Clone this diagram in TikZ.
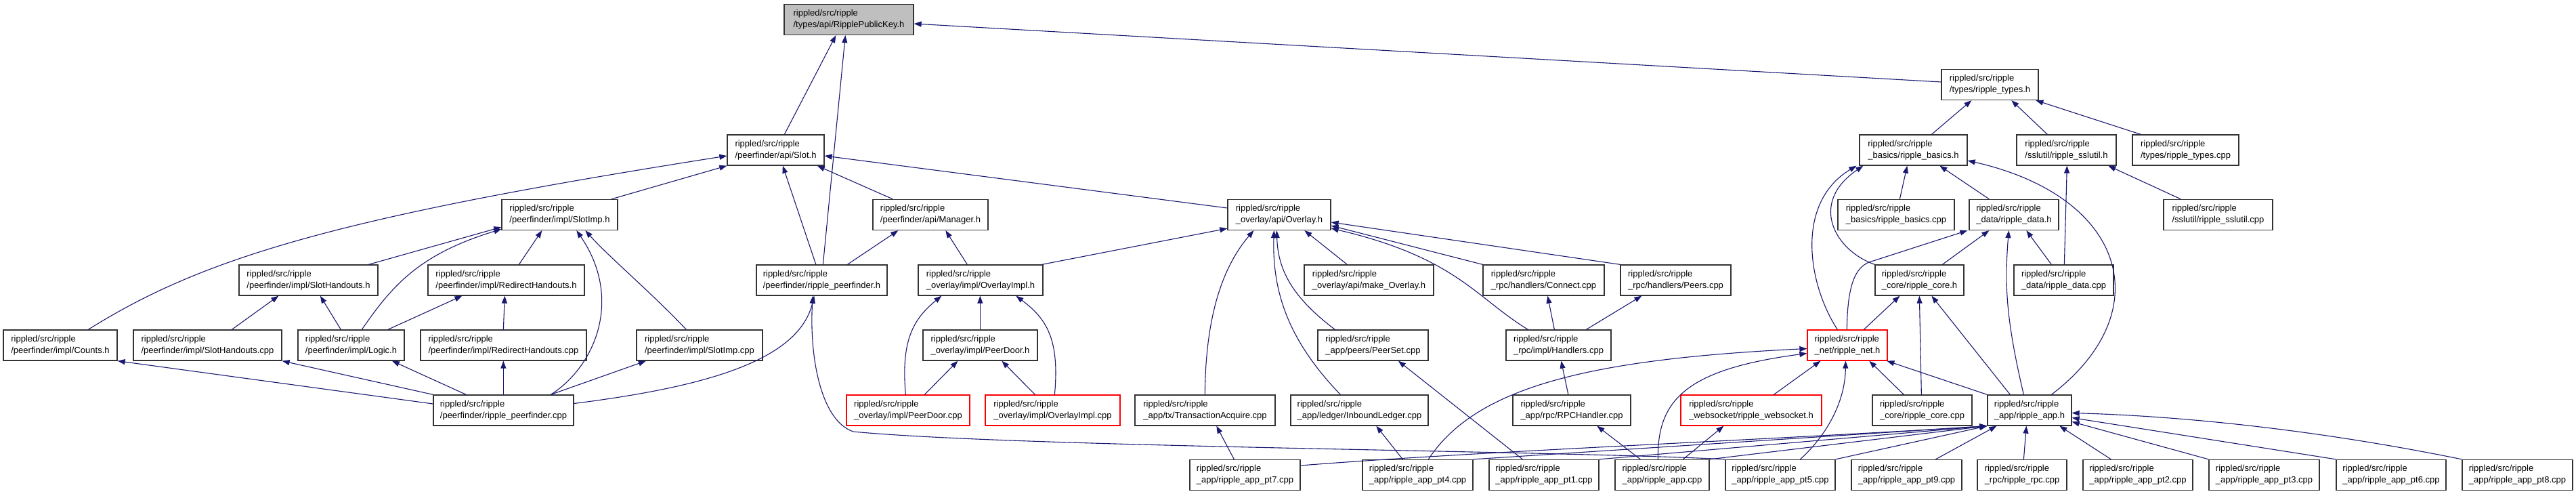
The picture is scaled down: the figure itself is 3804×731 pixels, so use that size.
\documentclass[tikz,border=0pt]{standalone}
\usepackage{fontspec}
\setmainfont{Liberation Sans}
\usetikzlibrary{arrows.meta}
\definecolor{edgecol}{HTML}{191970}
\definecolor{boxcol}{HTML}{333333}
\definecolor{rootfill}{HTML}{BFBFBF}
\definecolor{redcol}{HTML}{FF0000}
\tikzset{
 box/.style={draw=boxcol, line width=1.3pt, fill=white, minimum height=45pt, align=left, inner xsep=0pt, inner ysep=0pt, font=\fontsize{13pt}{17pt}\selectfont},
 rootbox/.style={fill=rootfill},
 redbox/.style={draw=redcol},
 edge/.style={draw=edgecol, line width=1.1pt, -{Triangle[length=11pt,width=8pt]}},
}
\newcommand{\bx}[6][]{%
  \pgfmathsetmacro\bxw{#4-#3}%
  \pgfmathsetmacro\bxc{(#3+#4)/2}%
  \node[box,#1,minimum width=\bxw pt] (#2) at (\bxc,#5) {rippled/src/ripple\\#6};}
\newcommand{\E}[4]{\draw[edge] ([xshift=#2pt]#1.north west) -- ([xshift=#4pt]#3.south west);}
\begin{document}
\begin{tikzpicture}[x=1pt,y=-1pt]
\useasboundingbox (0,0) rectangle (3804,731);
% row 0-2
\bx[rootbox]{rpk}{1158}{1349}{29}{/types/api/RipplePublicKey.h}
\bx{types}{2867}{3010}{125}{/types/ripple\_types.h}
\bx{slot}{1074}{1217}{221.5}{/peerfinder/api/Slot.h}
\bx{basics}{2746}{2905}{221.5}{\_basics/ripple\_basics.h}
\bx{sslh}{2978}{3125}{221.5}{/sslutil/ripple\_sslutil.h}
\bx{typescpp}{3149}{3306}{221.5}{/types/ripple\_types.cpp}
% row 3
\bx{slotimp}{741}{912}{317}{/peerfinder/impl/SlotImp.h}
\bx{manager}{1289}{1459}{317}{/peerfinder/api/Manager.h}
\bx{overlay}{1813}{1965}{317}{\_overlay/api/Overlay.h}
\bx{basicscpp}{2714}{2886}{317}{\_basics/ripple\_basics.cpp}
\bx{datah}{2908}{3040}{317}{\_data/ripple\_data.h}
\bx{sslcpp}{3195}{3356}{317}{/sslutil/ripple\_sslutil.cpp}
% row 4
\bx{sloth}{353}{558}{413.5}{/peerfinder/impl/SlotHandouts.h}
\bx{redirh}{632}{863}{413.5}{/peerfinder/impl/RedirectHandouts.h}
\bx{pfh}{1117}{1310}{413.5}{/peerfinder/ripple\_peerfinder.h}
\bx{ovimplh}{1356}{1540}{413.5}{\_overlay/impl/OverlayImpl.h}
\bx{makeov}{1926}{2117}{413.5}{\_overlay/api/make\_Overlay.h}
\bx{connect}{2190}{2369}{413.5}{\_rpc/handlers/Connect.cpp}
\bx{peers}{2393}{2556}{413.5}{\_rpc/handlers/Peers.cpp}
\bx{coreh}{2769}{2900}{413.5}{\_core/ripple\_core.h}
\bx{datacpp}{2974}{3121}{413.5}{\_data/ripple\_data.cpp}
% row 5
\bx{counts}{5}{173}{509.5}{/peerfinder/impl/Counts.h}
\bx{slothcpp}{197}{416}{509.5}{/peerfinder/impl/SlotHandouts.cpp}
\bx{logic}{440}{597}{509.5}{/peerfinder/impl/Logic.h}
\bx{redircpp}{621}{866}{509.5}{/peerfinder/impl/RedirectHandouts.cpp}
\bx{slotimpcpp}{940}{1126}{509.5}{/peerfinder/impl/SlotImp.cpp}
\bx{peerdoorh}{1363}{1532}{509.5}{\_overlay/impl/PeerDoor.h}
\bx{peerset}{1946}{2109}{509.5}{\_app/peers/PeerSet.cpp}
\bx{handlers}{2224}{2379}{509.5}{\_rpc/impl/Handlers.cpp}
\bx[redbox]{neth}{2669}{2787}{509.5}{\_net/ripple\_net.h}
% row 6
\bx{pfcpp}{640}{847}{605.5}{/peerfinder/ripple\_peerfinder.cpp}
\bx[redbox]{peerdoorcpp}{1250}{1432}{605.5}{\_overlay/impl/PeerDoor.cpp}
\bx[redbox]{ovimplcpp}{1455}{1654}{605.5}{\_overlay/impl/OverlayImpl.cpp}
\bx{txacq}{1676}{1883}{605.5}{\_app/tx/TransactionAcquire.cpp}
\bx{inbound}{1906}{2109}{605.5}{\_app/ledger/InboundLedger.cpp}
\bx{rpchandler}{2234}{2408}{605.5}{\_app/rpc/RPCHandler.cpp}
\bx[redbox]{websock}{2482}{2690}{605.5}{\_websocket/ripple\_websocket.h}
\bx{corecpp}{2765}{2912}{605.5}{\_core/ripple\_core.cpp}
\bx{apph}{2935}{3059}{605.5}{\_app/ripple\_app.h}
% row 7
\bx{pt7}{1757}{1920}{701}{\_app/ripple\_app\_pt7.cpp}
\bx{pt4}{2012}{2175}{701}{\_app/ripple\_app\_pt4.cpp}
\bx{pt1}{2199}{2361}{701}{\_app/ripple\_app\_pt1.cpp}
\bx{appcpp}{2385}{2524}{701}{\_app/ripple\_app.cpp}
\bx{pt5}{2548}{2710}{701}{\_app/ripple\_app\_pt5.cpp}
\bx{pt9}{2734}{2897}{701}{\_app/ripple\_app\_pt9.cpp}
\bx{rpccpp}{2920}{3052}{701}{\_rpc/ripple\_rpc.cpp}
\bx{pt2}{3076}{3238}{701}{\_app/ripple\_app\_pt2.cpp}
\bx{pt3}{3262}{3425}{701}{\_app/ripple\_app\_pt3.cpp}
\bx{pt6}{3450}{3612}{701}{\_app/ripple\_app\_pt6.cpp}
\bx{pt8}{3636}{3799}{701}{\_app/ripple\_app\_pt8.cpp}
% straight edges
\E{slot}{85}{rpk}{77}
\E{pfh}{99}{rpk}{91}
\E{basics}{107}{types}{45}
\E{sslh}{46}{types}{104}
\E{typescpp}{13}{types}{140}
\E{basicscpp}{92}{basics}{71}
\E{datah}{30}{basics}{119}
\E{coreh}{100}{datah}{30}
\E{datacpp}{56}{datah}{85}
\E{datacpp}{75}{sslh}{75}
\E{sslcpp}{26}{sslh}{136}
\E{neth}{84}{coreh}{37}
\E{corecpp}{73}{coreh}{66}
\E{apph}{34}{coreh}{84}
\E{websock}{138}{neth}{20}
\E{corecpp}{47}{neth}{92}
\E{apph}{0}{neth}{118}
\E{appcpp}{101}{websock}{64}
\E{pt9}{125}{apph}{14}
\E{rpccpp}{69}{apph}{58}
\E{pt2}{42}{apph}{107}
\E{makeov}{64}{overlay}{114}
\E{slotimp}{162.5}{slot}{0}
\E{pfh}{88.5}{slot}{82.5}
\E{manager}{30}{slot}{133.5}
\E{redirh}{135}{slotimp}{60}
\E{ovimplh}{73}{manager}{108}
\E{pfh}{135}{manager}{38}
\E{peerdoorh}{85}{ovimplh}{92}
\E{peerdoorcpp}{116}{peerdoorh}{52}
\E{ovimplcpp}{74}{peerdoorh}{117}
\E{slothcpp}{146}{sloth}{59}
\E{logic}{64}{sloth}{120.5}
\E{logic}{133.5}{redirh}{51}
\E{redircpp}{123}{redirh}{114}
\E{pfcpp}{49}{logic}{139.6}
\E{pfcpp}{104}{redircpp}{123}
\E{pfcpp}{174}{slotimpcpp}{14.5}
\E{pt7}{66}{txacq}{121}
\E{pt4}{60}{inbound}{127}
\E{pt1}{50}{peerset}{119.5}
\E{appcpp}{38}{rpchandler}{125}
\E{rpchandler}{82.5}{handlers}{82}
\E{handlers}{72}{connect}{96}
\E{handlers}{119}{peers}{32}
% side edges
\draw[edge] ([yshift=4pt]types.west) -- ([yshift=-6pt]rpk.east);
\draw[edge] ([yshift=10pt]overlay.west) -- ([yshift=-8.5pt]slot.east);
\draw[edge] ([xshift=-2pt]ovimplh.north east) -- ([yshift=3pt]overlay.south west);
\draw[edge] (connect.north west) -- ([yshift=-16pt]overlay.east);
\draw[edge] (peers.north west) -- ([yshift=-11pt]overlay.east);
\draw[edge] ([xshift=192pt]sloth.north west) -- ([yshift=5pt]slotimp.south west);
\draw[edge] (pt3.north west) -- ([yshift=-17pt]apph.east);
\draw[edge] (pt6.north west) -- ([yshift=-11pt]apph.east);
\draw[edge] (pt8.north west) .. controls (3450,640) and (3250,615) .. ([yshift=-4pt]apph.east);
\draw[edge] (pt5.north east) -- (apph.south west);
\draw[edge] (pt4.north east) -- (apph.south west);
\draw[edge] (pt1.north east) -- (apph.south west);
\draw[edge] (appcpp.north east) -- (apph.south west);
\draw[edge] ([yshift=14pt]pt7.east) .. controls (2200,665) and (2600,650) .. (apph.south west);
\draw[edge] ([yshift=9.5pt]pfcpp.west) -- (counts.south east);
\draw[edge] (pfcpp.north west) -- (slothcpp.south east);
% curved edges
\draw[edge] ([xshift=45pt]neth.north west) .. controls (2670,420) and (2650,300) .. ([xshift=-4pt]basics.south west);
\draw[edge] (coreh.north west) .. controls (2710,370) and (2670,300) .. ([xshift=6pt]basics.south west);
\draw[edge] ([xshift=95pt]apph.north west) .. controls (3190,460) and (3140,290) .. ([yshift=-15.5pt]basics.east);
\draw[edge] ([xshift=59pt]neth.north west) .. controls (2728,420) and (2740,395) .. (2760,387) -- ([xshift=-2pt]datah.south west);
\draw[edge] ([xshift=54pt]apph.north west) .. controls (2962,470) and (2960,420) .. ([xshift=59pt]datah.south west);
\draw[edge] ([xshift=111pt]pt5.north west) .. controls (2700,640) and (2725,590) .. ([xshift=57pt]neth.south west);
\draw[edge] ([xshift=98pt]pt4.north west) .. controls (2180,570) and (2350,530) .. ([yshift=-5pt]neth.west);
\draw[edge] ([xshift=64pt]appcpp.north west) .. controls (2447,590) and (2490,545) .. ([yshift=-12pt]neth.west);
\draw[edge] ([xshift=104pt]txacq.north west) .. controls (1780,480) and (1800,400) .. ([xshift=39pt]overlay.south west);
\draw[edge] ([xshift=26pt]peerset.north west) .. controls (1910,440) and (1887,400) .. ([xshift=73pt]overlay.south west);
\draw[edge] ([xshift=74pt]inbound.north west) .. controls (1910,510) and (1878,440) .. ([xshift=69pt]overlay.south west);
\draw[edge] ([xshift=33pt]handlers.north west) .. controls (2180,440) and (2150,380) .. ([yshift=-20pt]overlay.east);
\draw[edge] ([xshift=126pt]counts.north west) .. controls (300,380) and (500,320) .. ([yshift=-8.5pt]slot.west);
\draw[edge] ([xshift=95pt]logic.north west) .. controls (580,420) and (620,375) .. ([yshift=2pt]slotimp.south west);
\draw[edge] ([xshift=174pt]pfcpp.north west) .. controls (880,540) and (920,440) .. ([xshift=111pt]slotimp.south west);
\draw[edge] ([xshift=74pt]slotimpcpp.north west) .. controls (960,430) and (900,380) .. ([xshift=124pt]slotimp.south west);
\draw[edge] ([xshift=88pt]peerdoorcpp.north west) .. controls (1330,500) and (1350,470) .. ([xshift=35pt]ovimplh.south west);
\draw[edge] ([xshift=103pt]ovimplcpp.north west) .. controls (1565,500) and (1545,470) .. ([xshift=145pt]ovimplh.south west);
\draw[edge] ([yshift=10pt]pfcpp.east) .. controls (1050,570) and (1180,530) .. ([xshift=86pt]pfh.south west);
\draw[edge] (pt5.north west) .. controls (2300,665) and (1500,660) .. (1260,637) .. controls (1210,620) and (1195,520) .. ([xshift=84pt]pfh.south west);
\end{tikzpicture}
\end{document}
